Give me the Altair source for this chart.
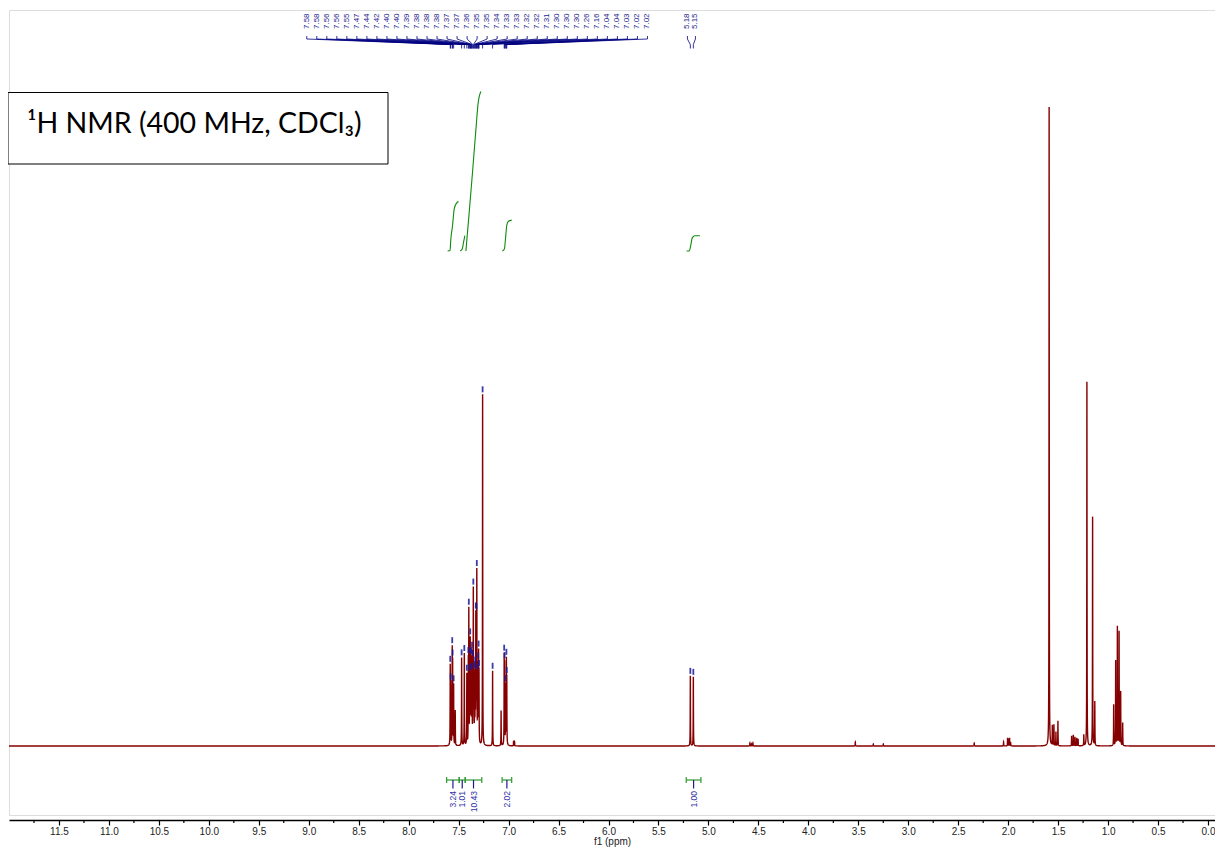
import altair as alt
import numpy as np
import pandas as pd

alt.data_transformers.disable_max_rows()

# ---------------- data ----------------
# picked (labelled) peaks: chemical shift (ppm), printed label, height above baseline (px-units)
pick_ppm = [7.584, 7.580, 7.564, 7.560, 7.550, 7.470, 7.443, 7.418, 7.403, 7.398,
            7.390, 7.384, 7.380, 7.376, 7.370, 7.366, 7.358, 7.353, 7.347, 7.340,
            7.334, 7.328, 7.322, 7.318, 7.310, 7.304, 7.300, 7.296, 7.260, 7.160,
            7.044, 7.040, 7.030, 7.022, 7.018, 5.181, 5.151]
pick_text = ["7.58", "7.58", "7.56", "7.56", "7.55", "7.47", "7.44", "7.42", "7.40", "7.40",
             "7.39", "7.38", "7.38", "7.38", "7.37", "7.37", "7.36", "7.35", "7.35", "7.34",
             "7.33", "7.33", "7.32", "7.32", "7.31", "7.30", "7.30", "7.30", "7.26", "7.16",
             "7.04", "7.04", "7.03", "7.02", "7.02", "5.18", "5.15"]
pick_height = [76, 56, 92, 78, 60, 88, 92, 71, 80, 130,
               62, 95, 70, 58, 75, 82, 72, 148, 62, 66,
               68, 122, 110, 161, 62, 70, 81, 66, 351, 75,
               85, 76, 58, 81, 62, 70, 69]
pick_group = [1] * 35 + [2] * 2

# other (unlabelled) signals
other_ppm = [7.534, 7.075, 6.950, 6.940, 4.585, 4.570, 4.555, 3.530, 3.350, 3.250,
             2.340, 2.046, 2.006, 1.996, 1.986, 1.975, 1.590, 1.558, 1.542, 1.522,
             1.502, 1.365, 1.348, 1.332, 1.315, 1.300, 1.243, 1.212, 1.155, 1.133,
             0.944, 0.924, 0.907, 0.890, 0.874, 0.854]
other_height = [35, 35, 5, 4, 3, 2, 3, 4, 2, 2,
                3, 4, 8, 7, 8, 3, 639, 20, 21, 14,
                25, 10, 11, 9, 8, 7, 11, 364, 229, 44,
                41, 85, 119, 114, 54, 23]

# integrals: region limits (ppm), value, and the integral trace (ppm, cumulative H)
int_start = [7.620, 7.494, 7.434, 7.065, 5.222]
int_end = [7.494, 7.434, 7.268, 6.969, 5.075]
int_value = ["3.24", "1.01", "10.43", "2.02", "1.00"]
int_trace_ppm = [
    [7.610, 7.586, 7.578, 7.561, 7.544, 7.521, 7.501],
    [7.484, 7.464, 7.450, 7.437],
    [7.427, 7.394, 7.361, 7.327, 7.304, 7.277],
    [7.062, 7.042, 7.028, 7.018, 7.002, 6.969],
    [5.219, 5.192, 5.175, 5.162, 5.135, 5.085],
]
int_trace_h = [
    [0.00, 0.03, 0.78, 1.65, 2.75, 3.13, 3.24],
    [0.00, 0.13, 0.60, 1.01],
    [0.00, 2.54, 5.15, 7.95, 9.71, 10.43],
    [0.00, 0.13, 1.02, 1.69, 1.95, 2.02],
    [0.00, 0.00, 0.43, 0.86, 1.00, 1.00],
]

major_ticks = [11.5, 11.0, 10.5, 10.0, 9.5, 9.0, 8.5, 8.0, 7.5, 7.0, 6.5, 6.0,
               5.5, 5.0, 4.5, 4.0, 3.5, 3.0, 2.5, 2.0, 1.5, 1.0, 0.5, 0.0]
minor_ticks = [11.75, 11.25, 10.75, 10.25, 9.75, 9.25, 8.75, 8.25, 7.75, 7.25, 6.75, 6.25,
               5.75, 5.25, 4.75, 4.25, 3.75, 3.25, 2.75, 2.25, 1.75, 1.25, 0.75, 0.25]

title_text = "\u00b9H NMR (400 MHz, CDCl\u2083)"

# ---------------- build tables ----------------
GAMMA = 0.0013
all_ppm = np.array(pick_ppm + other_ppm)
all_h = np.array(pick_height + other_height, dtype=float)


def spectrum(x):
    x = np.asarray(x, dtype=float)
    return (all_h[None, :] / (1.0 + ((x[:, None] - all_ppm[None, :]) / GAMMA) ** 2)).sum(axis=1)


coarse = np.arange(-0.07, 12.0001, 0.002)
fine = np.concatenate([np.arange(p - 0.008, p + 0.008, 0.0003) for p in all_ppm])
grid = np.unique(np.round(np.concatenate([coarse, fine, all_ppm]), 5))
spec_df = pd.DataFrame({"ppm": grid, "I": np.round(spectrum(grid), 2)})

pick_top = spectrum(pick_ppm)
mk_df = pd.DataFrame({"ppm": pick_ppm, "y1": pick_top + 2, "y2": pick_top + 8})

# label slots above the spectrum (evenly spread), and fan connectors to the peaks
n1 = pick_group.count(1)
slots = list(np.linspace(9.02, 5.61, n1)) + [5.21, 5.13]
lab_df = pd.DataFrame({"ppm": slots, "t": pick_text, "y": 717})
rows = []
for i, (s, p) in enumerate(zip(slots, pick_ppm)):
    rows += [dict(id=i, k=0, ppm=s, y=710), dict(id=i, k=1, ppm=s, y=707),
             dict(id=i, k=2, ppm=p, y=701.5), dict(id=i, k=3, ppm=p, y=697.5)]
con_df = pd.DataFrame(rows)

K = 15.3      # px per proton in the integral traces
INT_BASE = 495
rows = []
for i, (pp, hh) in enumerate(zip(int_trace_ppm, int_trace_h)):
    for k, (p, h) in enumerate(zip(pp, hh)):
        rows.append(dict(id=i, k=k, ppm=p, y=INT_BASE + K * h))
itr_df = pd.DataFrame(rows)

mid = [(a + b) / 2 for a, b in zip(int_start, int_end)]
br_df = pd.DataFrame({"ppm": int_start, "b": int_end, "y": -34})
cap_df = pd.DataFrame({"ppm": int_start + int_end, "y1": -31, "y2": -37})
itick_df = pd.DataFrame({"ppm": mid, "y1": -34, "y2": -42.5})
ilab_df = pd.DataFrame({"ppm": mid, "t": int_value, "y": -45})
minor_df = pd.DataFrame({"ppm": minor_ticks})
one = pd.DataFrame({"a": [0]})

# ---------------- chart ----------------
xs = alt.Scale(domain=[-0.07, 12.0], reverse=True, nice=False, zero=False)
ys = alt.Scale(domain=[-69, 736], nice=False, zero=False)
AX = alt.Axis(
    values=major_ticks, format=".1f", title="f1 (ppm)", offset=5, grid=False,
    domainColor="#000000", domainWidth=1.5, tickColor="#000000", tickSize=5,
    tickWidth=1.2, labelFont="Liberation Sans", labelFontSize=10, labelColor="#222222",
    labelPadding=1, labelFlush=False, labelOverlap=False, titleFont="Liberation Sans",
    titleFontSize=10, titleFontWeight="normal", titleColor="#222222", titlePadding=0)


def X(f="ppm"):
    return alt.X(f"{f}:Q", scale=xs, axis=AX)


def Y(f):
    return alt.Y(f"{f}:Q", scale=ys, axis=None)


NAVY = "#1c1c8c"
GREEN = "#2f9a2f"

spec = alt.Chart(spec_df).mark_line(color="#850000", strokeWidth=1.4).encode(
    x=X(), y=Y("I"))

markers = alt.Chart(mk_df).mark_rule(color="#1a1a9a", strokeWidth=1.8, opacity=0.85).encode(
    x=X(), y=Y("y1"), y2="y2:Q")

connect = alt.Chart(con_df).mark_line(color="#000080", strokeWidth=0.8).encode(
    x=X(), y=Y("y"), detail="id:N", order="k:Q")

labels = alt.Chart(lab_df).mark_text(angle=270, align="left", baseline="middle",
                                     font="Liberation Sans", fontSize=8, color=NAVY).encode(
    x=X(), y=Y("y"), text="t:N")

itrace = alt.Chart(itr_df).mark_line(color="#0e8a0e", strokeWidth=1.1, interpolate="monotone").encode(
    x=X(), y=Y("y"), detail="id:N", order="k:Q")

brackets = alt.Chart(br_df).mark_rule(color=GREEN, strokeWidth=1.2).encode(
    x=X(), x2="b:Q", y=Y("y"))
caps = alt.Chart(cap_df).mark_rule(color=GREEN, strokeWidth=1.2).encode(
    x=X(), y=Y("y1"), y2="y2:Q")
iticks = alt.Chart(itick_df).mark_rule(color=NAVY, strokeWidth=1.2).encode(
    x=X(), y=Y("y1"), y2="y2:Q")
ilabels = alt.Chart(ilab_df).mark_text(angle=270, align="right", baseline="middle",
                                       font="Liberation Sans", fontSize=8.5, color="#3030a8").encode(
    x=X(), y=Y("y"), text="t:N")

minor = alt.Chart(minor_df).mark_rule(color="#000000", strokeWidth=1.2).encode(
    x=X(), y=alt.value(810), y2=alt.value(813))

box = alt.Chart(one).mark_rect(fill="white", stroke="black", strokeWidth=1).encode(
    x=alt.value(-1), x2=alt.value(379), y=alt.value(82.5), y2=alt.value(154))
title = alt.Chart(one).mark_text(align="left", baseline="alphabetic", font="Lato",
                                 fontSize=28.5, color="black", text=title_text).encode(
    x=alt.value(18), y=alt.value(123))

chart = alt.layer(
    spec, markers, connect, labels, itrace, brackets, caps, iticks, ilabels, minor, box, title
).properties(
    width=1206, height=805,
    padding={"left": 1, "top": 2, "right": 0, "bottom": 34},
    autosize="none",
).configure_view(stroke="#c8c8c8", strokeWidth=1.5).configure(background="white")

chart.save("out.html", embed_options={"renderer": "svg", "actions": False})
